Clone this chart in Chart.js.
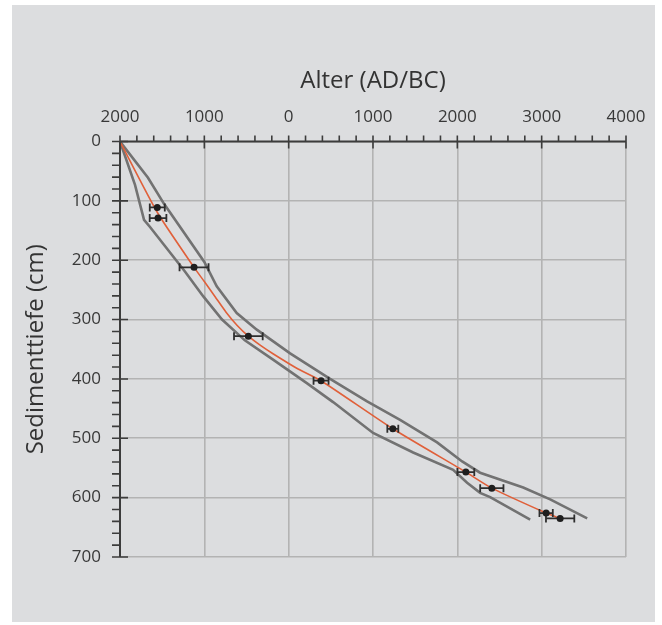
<!DOCTYPE html>
<html>
<head>
<meta charset="utf-8">
<script src="https://cdn.jsdelivr.net/npm/chart.js@4"></script>
<style>
  html, body { margin: 0; padding: 0; background: #ffffff; }
  #wrap { position: relative; width: 662px; height: 625px; }
  #panel { position: absolute; left: 12px; top: 5px; width: 643px; height: 617px; background: #dcdddf; }
  canvas { position: absolute; left: 0; top: 0; }
</style>
</head>
<body>
<div id="wrap">
  <div id="panel"></div>
  <canvas id="ageChart" width="662" height="625"></canvas>
</div>
<script>
// Alter in Jahren: negativ = AD, positiv = BC; Tiefe in cm
const sampleAge   = [-1558, -1549, -1122, -478, 384, 1235, 2101, 2409, 3053, 3219];
const sampleDepth = [111, 129, 212, 328, 403, 484, 557, 584, 626, 635];
const sampleErr   = [89, 99, 172, 170, 89, 65, 100, 138, 79, 168];

const modelAge   = [-2000, -1555, -1122, -1000, -870, -740, -610, -478, -330, -181, 96, 384, 1235, 2101, 2409, 3053, 3219];
const modelDepth = [0, 120, 212, 236, 262, 288, 310, 328, 344, 358, 382, 403, 484, 557, 584, 626, 635];

const upperAge   = [-2000, -1668, -1478, -1000, -853, -616, -378, 17, 491, 930, 1321, 1760, 2057, 2270, 2781, 3101, 3540];
const upperDepth = [0, 61, 105, 203, 244, 289, 317, 357, 400, 438, 469, 507, 539, 558, 583, 603, 635];

const lowerAge   = [-2000, -1822, -1715, -1644, -1230, -1012, -790, -520, -181, 215, 527, 1001, 1476, 1950, 2116, 2270, 2389, 2864];
const lowerDepth = [0, 73, 132, 144, 219, 261, 300, 335, 368, 407, 439, 491, 524, 553, 575, 592, 599, 637];

const xTicks = [-2000, -1000, 0, 1000, 2000, 3000, 4000];
const yTicks = [0, 100, 200, 300, 400, 500, 600, 700];

const toPoints = (xs, ys) => xs.map((x, i) => ({ x: x, y: ys[i] }));

const FONT = '"Open Sans", "Noto Sans", sans-serif';
const AXIS = '#3c3c3c';

// Achsenlinien mit Haupt- und Nebenstrichen
const axisTicks = {
    id: 'axisTicks',
    afterDatasetsDraw(chart) {
        const { ctx, chartArea: a, scales: { x, y } } = chart;
        ctx.save();
        ctx.strokeStyle = AXIS;
        ctx.lineWidth = 2;
        ctx.beginPath();
        ctx.moveTo(a.left, a.top); ctx.lineTo(a.right, a.top);
        ctx.moveTo(a.left, a.top); ctx.lineTo(a.left, a.bottom);
        ctx.stroke();
        ctx.lineWidth = 1.6;
        ctx.beginPath();
        for (let v = x.min; v <= x.max; v += 200) {
            const px = x.getPixelForValue(v);
            const major = v % 1000 === 0;
            ctx.moveTo(px, a.top - 6);
            ctx.lineTo(px, major ? a.top + 7 : a.top);
        }
        for (let v = y.min; v <= y.max; v += 20) {
            const py = y.getPixelForValue(v);
            const major = v % 100 === 0;
            ctx.moveTo(a.left - 8, py);
            ctx.lineTo(major ? a.left + 8 : a.left, py);
        }
        ctx.stroke();
        ctx.restore();
    }
};

// horizontale Fehlerbalken der Datierungen
const errorBars = {
    id: 'errorBars',
    afterDatasetDraw(chart, args) {
        if (args.index !== 1) return;
        const { ctx, scales: { x, y } } = chart;
        ctx.save();
        ctx.strokeStyle = '#2e2e2e';
        ctx.lineWidth = 1.8;
        ctx.beginPath();
        sampleAge.forEach((age, i) => {
            const py = y.getPixelForValue(sampleDepth[i]);
            const x0 = x.getPixelForValue(age - sampleErr[i]);
            const x1 = x.getPixelForValue(age + sampleErr[i]);
            ctx.moveTo(x0, py); ctx.lineTo(x1, py);
            ctx.moveTo(x0, py - 4); ctx.lineTo(x0, py + 4);
            ctx.moveTo(x1, py - 4); ctx.lineTo(x1, py + 4);
        });
        ctx.stroke();
        ctx.restore();
    }
};

new Chart(document.getElementById('ageChart'), {
    type: 'scatter',
    data: {
        datasets: [
            {
                label: 'Datierungen',
                data: toPoints(sampleAge, sampleDepth),
                pointRadius: 3.5,
                pointBackgroundColor: '#1e1e1e',
                pointBorderWidth: 0,
                showLine: false
            },
            {
                label: 'Modell',
                data: toPoints(modelAge, modelDepth),
                showLine: true,
                borderColor: '#e0603a',
                borderWidth: 1.6,
                pointRadius: 0,
                tension: 0.2
            },
            {
                label: 'Obergrenze',
                data: toPoints(upperAge, upperDepth),
                showLine: true,
                borderColor: '#727272',
                borderWidth: 2.6,
                pointRadius: 0
            },
            {
                label: 'Untergrenze',
                data: toPoints(lowerAge, lowerDepth),
                showLine: true,
                borderColor: '#727272',
                borderWidth: 2.6,
                pointRadius: 0
            }
        ]
    },
    options: {
        responsive: false,
        animation: false,
        layout: { padding: { left: 12, top: 50, right: 36, bottom: 68 } },
        plugins: { legend: { display: false }, tooltip: { enabled: false } },
        scales: {
            x: {
                type: 'linear',
                position: 'top',
                min: -2000,
                max: 4000,
                afterBuildTicks: (s) => { s.ticks = xTicks.map(v => ({ value: v })); },
                afterFit: (s) => { s.height = 91.5; },
                border: { display: false },
                grid: { color: '#b3b3b3', lineWidth: 1.6, drawTicks: false },
                ticks: {
                    padding: 14,
                    color: '#383838',
                    font: { family: FONT, size: 17 },
                    maxRotation: 0,
                    callback: (v) => Math.abs(v)
                },
                title: {
                    display: true,
                    text: 'Alter (AD/BC)',
                    color: '#333333',
                    font: { family: FONT, size: 24 },
                    padding: { top: 17, bottom: 0 }
                }
            },
            y: {
                type: 'linear',
                reverse: true,
                min: 0,
                max: 700,
                afterBuildTicks: (s) => { s.ticks = yTicks.map(v => ({ value: v })); },
                afterFit: (s) => { s.width = 108; },
                border: { display: false },
                grid: { color: '#b3b3b3', lineWidth: 1.6, drawTicks: false },
                ticks: {
                    padding: 19,
                    color: '#383838',
                    font: { family: FONT, size: 17 }
                },
                title: {
                    display: true,
                    text: 'Sedimenttiefe (cm)',
                    color: '#333333',
                    font: { family: FONT, size: 24 },
                    padding: { top: 10, bottom: 0 }
                }
            }
        }
    },
    plugins: [axisTicks, errorBars]
});
</script>
</body>
</html>
